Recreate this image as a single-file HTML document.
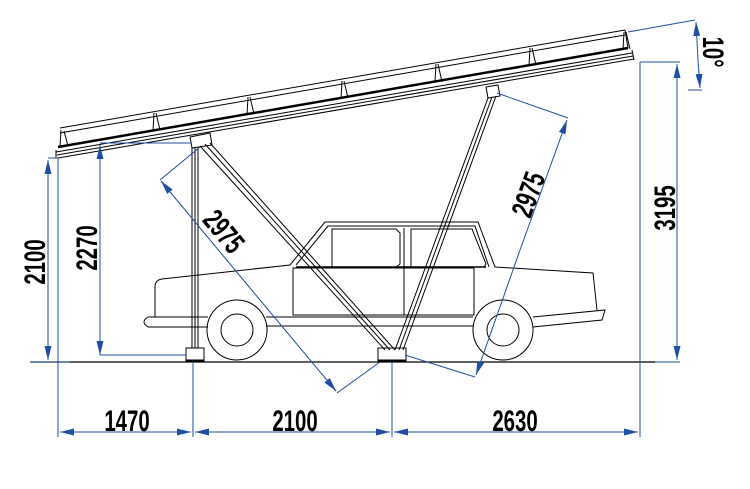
<!DOCTYPE html>
<html><head><meta charset="utf-8"><style>
html,body{margin:0;padding:0;background:#fff}
svg{display:block}
.t{font-family:"Liberation Sans",sans-serif;font-weight:bold;font-size:30px;fill:#000}
</style></head><body>
<svg width="750" height="489" viewBox="0 0 750 489" xmlns="http://www.w3.org/2000/svg">
<defs>
<marker id="a" viewBox="0 0 14 7" refX="14" refY="3.5" markerWidth="14" markerHeight="7" markerUnits="userSpaceOnUse" orient="auto"><path d="M0,0 L14,3.5 L0,7z" fill="#1f4ea3"/></marker>
</defs>
<g stroke="#000" fill="none">
<path d="M60,128 L625,30" stroke-width="1"/>
<path d="M60,133 L625,35" stroke-width="1"/>
<path d="M58,147 L628,48" stroke-width="2.5"/>
<path d="M56,152 L632,53" stroke-width="1"/>
<path d="M57,155 L633,56" stroke-width="1"/>
<path d="M58,158 L634,59" stroke-width="1"/>
<path d="M56,150 L56,158 M632,50 L634,60 M625,30 L628,48"/>
<g stroke-width="1">
<path d="M61,130 L60,147 M64,131 L68,146"/>
<path d="M154,113 L153,131 M156,113 L160,130"/>
<path d="M248,97 L247,115 M250,97 L254,114"/>
<path d="M342,81 L341,99 M344,81 L348,98"/>
<path d="M436,64 L435,82 M438,64 L442,82"/>
<path d="M530,48 L529,66 M532,48 L536,65"/>
<path d="M624,32 L623,50 M626,32 L630,49"/>
</g>
<path d="M190,137 L210,133 L212,145 L192,148z"/>
<path d="M486,87 L498,85 L500,96 L488,98z"/>
<path d="M192,148 L192,348 M195,148 L195,348 M198,148 L198,348"/>
<path d="M200,146 L385,350 M205,144 L390,350 M210,143 L395,350"/>
<path d="M488,98 L395,350 M492,97 L399,350 M496,96 L403,350"/>
<rect x="186" y="348" width="18" height="13"/>
<rect x="378" y="348" width="28" height="13"/>
<path d="M186,361 L204,361 M378,361 L406,361" stroke-width="3"/>
<path d="M30,362 L655,362" stroke-width="1.3"/>
<path d="M325,222 L478,222 L495,267 L593,273 L597,310"/>
<path d="M328,226 L475,226 L489,267"/>
<path d="M325,222 L290,265 L162,279 Q155,280 155,287 L155,317"/>
<path d="M328,226 L296,265"/>
<rect x="293" y="268" width="181" height="47"/>
<path d="M404,228 L404,315"/>
<path d="M332,229 L396,229 L400,233 L400,264 L396,267 L332,267z"/>
<path d="M411,229 L472,229 L486,264 L484,267 L411,267z"/>
<path d="M296,267 L486,267" stroke-width="1.5"/>
<path d="M148,317 L208,317 M266,317 L473,317 M533,317 L605,310 L602,320 L533,327 M266,326 L473,326 M148,327 L208,327 M148,317 Q140,322 148,327"/>
<circle cx="237" cy="330" r="30"/><circle cx="237" cy="330" r="16"/>
<circle cx="503" cy="330" r="30"/><circle cx="503" cy="330" r="16"/>
</g>
<g stroke="#1f4ea3" stroke-width="1" fill="none">
<path d="M58,158 L58,437 M193,362 L193,437 M392,362 L392,437 M640,62 L640,437"/>
<path d="M125,432 L60,432" marker-end="url(#a)"/>
<path d="M125,432 L191,432" marker-end="url(#a)"/>
<path d="M290,432 L195,432" marker-end="url(#a)"/>
<path d="M290,432 L390,432" marker-end="url(#a)"/>
<path d="M515,432 L394,432" marker-end="url(#a)"/>
<path d="M515,432 L638,432" marker-end="url(#a)"/>
<path d="M48,158 L58,158 M30,362 L70,362"/>
<path d="M48,260 L48,160" marker-end="url(#a)"/>
<path d="M48,260 L48,360" marker-end="url(#a)"/>
<path d="M100,143 L192,143"/>
<path d="M100,250 L100,145" marker-end="url(#a)"/>
<path d="M100,250 L100,355" marker-end="url(#a)"/>
<path d="M100,355 L186,355"/>
<path d="M640,62 L680,62 M655,362 L680,362"/>
<path d="M677,200 L677,64" marker-end="url(#a)"/>
<path d="M677,200 L677,360" marker-end="url(#a)"/>
<path d="M628,32 L695,20"/>
<path d="M688,90 L702,90"/>
<path d="M698,60 L696,22" marker-end="url(#a)"/>
<path d="M698,60 L700,88" marker-end="url(#a)"/>
<path d="M200,147 L160,180 M380,362 L337,393"/>
<path d="M250,288 L161,181" marker-end="url(#a)"/>
<path d="M250,288 L336,391" marker-end="url(#a)"/>
<path d="M497,93 L568,118 M405,355 L475,377"/>
<path d="M520,250 L567,120" marker-end="url(#a)"/>
<path d="M520,250 L476,375" marker-end="url(#a)"/>
</g>
<g class="t">
<text transform="translate(127,431) scale(0.68,1)" text-anchor="middle">1470</text>
<text transform="translate(295,431) scale(0.68,1)" text-anchor="middle">2100</text>
<text transform="translate(515,431) scale(0.68,1)" text-anchor="middle">2630</text>
<text transform="translate(45,262) rotate(-90) scale(0.68,1)" text-anchor="middle">2100</text>
<text transform="translate(97,248) rotate(-90) scale(0.68,1)" text-anchor="middle">2270</text>
<text transform="translate(675,208) rotate(-90) scale(0.68,1)" text-anchor="middle">3195</text>
<text transform="translate(216,238) rotate(50) scale(0.68,1)" text-anchor="middle">2975</text>
<text transform="translate(538,198) rotate(-70) scale(0.68,1)" text-anchor="middle">2975</text>
<text transform="translate(703,52) rotate(90) scale(0.68,1)" text-anchor="middle">10°</text>
</g>
</svg>
</body></html>
